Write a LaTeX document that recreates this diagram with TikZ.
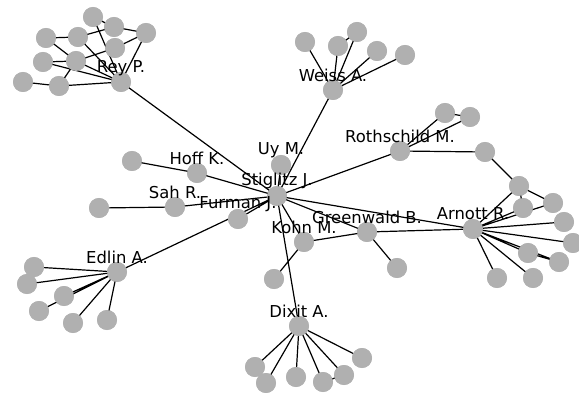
\documentclass[tikz,border=0pt]{standalone}
\usepackage{fontspec}
\setmainfont{DejaVu Sans}
\definecolor{nodegray}{RGB}{176,176,176}
\begin{document}
\begin{tikzpicture}[x=1pt,y=-1pt,
  v/.style={circle,fill=nodegray,draw=none,minimum size=20pt,inner sep=0pt},
  lab/.style={font=\fontsize{16.4}{18}\selectfont,inner sep=0pt,anchor=center},
  edge/.style={draw=black,line width=1.2pt}]
\useasboundingbox (0,0) rectangle (579,393);
% nodes
\node[v] (S) at (277,196) {};
\node[v] (R) at (121,82) {};
\node[v] (r1) at (93,17) {};
\node[v] (r2) at (114,27) {};
\node[v] (r3) at (146,33) {};
\node[v] (r4) at (46,38) {};
\node[v] (r5) at (78,37) {};
\node[v] (r6) at (115,48) {};
\node[v] (r7) at (43,62) {};
\node[v] (r8) at (76,61) {};
\node[v] (r9) at (23,82) {};
\node[v] (r10) at (59,86) {};
\node[v] (W) at (333,90) {};
\node[v] (w1) at (305,42) {};
\node[v] (w2) at (338,46) {};
\node[v] (w3) at (357,32) {};
\node[v] (w4) at (377,51) {};
\node[v] (w5) at (405,55) {};
\node[v] (T) at (400,151) {};
\node[v] (t1) at (445,113) {};
\node[v] (t2) at (470,117) {};
\node[v] (t3) at (485,152) {};
\node[v] (A) at (473,229) {};
\node[v] (a1) at (519,186) {};
\node[v] (a2) at (523,208) {};
\node[v] (a3) at (553,203) {};
\node[v] (a4) at (564,222) {};
\node[v] (a5) at (573,243) {};
\node[v] (a6) at (528,253) {};
\node[v] (a7) at (559,262) {};
\node[v] (a8) at (497,278) {};
\node[v] (a9) at (533,278) {};
\node[v] (G) at (367,232) {};
\node[v] (g1) at (397,268) {};
\node[v] (K) at (304,242) {};
\node[v] (k1) at (274,279) {};
\node[v] (D) at (299,326) {};
\node[v] (d1) at (255,367) {};
\node[v] (d2) at (266,383) {};
\node[v] (d3) at (296,377) {};
\node[v] (d4) at (323,382) {};
\node[v] (d5) at (344,375) {};
\node[v] (d6) at (362,358) {};
\node[v] (E) at (117,272) {};
\node[v] (e1) at (34,267) {};
\node[v] (e2) at (27,284) {};
\node[v] (e3) at (64,296) {};
\node[v] (e4) at (39,311) {};
\node[v] (e5) at (73,323) {};
\node[v] (e6) at (107,320) {};
\node[v] (F) at (238,219) {};
\node[v] (H) at (175,207) {};
\node[v] (h1) at (99,208) {};
\node[v] (O) at (197,173) {};
\node[v] (o1) at (132,161) {};
\node[v] (U) at (281,165) {};
% edges
\begin{scope}[on background layer/.style={}]
\end{scope}
\begin{pgfinterruptboundingbox}\end{pgfinterruptboundingbox}
\path[edge]
 (S.center)--(R.center) (S.center)--(W.center) (S.center)--(T.center)
 (S.center)--(A.center) (S.center)--(G.center) (S.center)--(K.center)
 (S.center)--(D.center) (S.center)--(F.center) (S.center)--(E.center)
 (S.center)--(H.center) (S.center)--(O.center) (S.center)--(U.center)
 (R.center)--(r1.center) (R.center)--(r3.center) (R.center)--(r5.center)
 (R.center)--(r7.center) (R.center)--(r8.center) (R.center)--(r10.center)
 (r1.center)--(r2.center) (r2.center)--(r3.center) (r5.center)--(r2.center)
 (r4.center)--(r5.center) (r6.center)--(r3.center) (r6.center)--(r8.center)
 (r4.center)--(r8.center) (r7.center)--(r8.center) (r9.center)--(r10.center)
 (r10.center)--(r8.center)
 (W.center)--(w1.center) (W.center)--(w2.center) (W.center)--(w3.center)
 (W.center)--(w4.center) (W.center)--(w5.center) (w2.center)--(w3.center)
 (T.center)--(t1.center) (T.center)--(t2.center) (t1.center)--(t2.center)
 (T.center)--(t3.center) (t3.center)--(a1.center)
 (A.center)--(a1.center) (a1.center)--(a2.center) (a1.center)--(a3.center)
 (A.center)--(a2.center) (A.center)--(a3.center) (A.center)--(a4.center)
 (A.center)--(a5.center) (A.center)--(a6.center) (A.center)--(a7.center)
 (a6.center)--(a7.center) (A.center)--(a8.center) (A.center)--(a9.center)
 (G.center)--(A.center) (G.center)--(g1.center) (G.center)--(K.center)
 (K.center)--(k1.center)
 (D.center)--(d1.center) (D.center)--(d2.center) (D.center)--(d3.center)
 (D.center)--(d4.center) (D.center)--(d5.center) (D.center)--(d6.center)
 (d4.center)--(d5.center)
 (E.center)--(e1.center) (E.center)--(e2.center) (E.center)--(e3.center)
 (E.center)--(e4.center) (E.center)--(e5.center) (E.center)--(e6.center)
 (H.center)--(h1.center) (O.center)--(o1.center);
% redraw nodes on top
\foreach \n in {S,R,r1,r2,r3,r4,r5,r6,r7,r8,r9,r10,W,w1,w2,w3,w4,w5,T,t1,t2,t3,A,a1,a2,a3,a4,a5,a6,a7,a8,a9,G,g1,K,k1,D,d1,d2,d3,d4,d5,d6,E,e1,e2,e3,e4,e5,e6,F,H,h1,O,o1,U}
  \fill[nodegray] (\n.center) circle (10pt);
% labels
\node[lab] (lR) at (121,68) {Rey P.};
\node[lab] (lW) at (333,75) {Weiss A.};
\node[lab] (lT) at (400,136) {Rothschild M.};
\node[lab] (lU) at (281,150) {Uy M.};
\node[lab] (lO) at (197,158) {Hoff K.};
\node[lab] (lS) at (277,181) {Stiglitz J.};
\node[lab] (lH) at (175,192) {Sah R.};
\node[lab] (lF) at (238,204) {Furman J.};
\node[lab] (lG) at (367,217) {Greenwald B.};
\node[lab] (lA) at (473,214) {Arnott R.};
\node[lab] (lK) at (304,227) {Kohn M.};
\node[lab] (lE) at (117,257) {Edlin A.};
\node[lab] (lD) at (299,311) {Dixit A.};
\end{tikzpicture}
\end{document}
